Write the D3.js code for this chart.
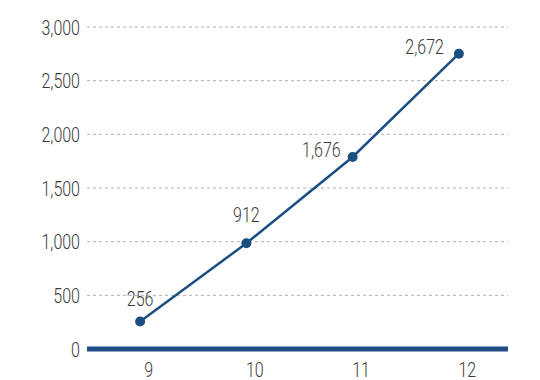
<!DOCTYPE html>
<html><head><meta charset="utf-8">
<script src="https://cdn.jsdelivr.net/npm/d3@7"></script>
<style>body{margin:0;background:#fff}svg{display:block}</style>
</head><body>
<svg id="c" width="540" height="380"></svg>
<script>
const categories = ["9", "10", "11", "12"];
const values = [256, 985, 1789, 2751];
const labels = ["256", "912", "1,676", "2,672"];
const yTicks = [0, 500, 1000, 1500, 2000, 2500, 3000];

(function () {
const svg = d3.select("#c");
const font = "Roboto, sans-serif";
const fs = 20, sx = 0.8, tc = "#3a3a3a";
const mLeft = 87, mRight = 508, mTop = 27, mBottom = 349;
const x = d3.scalePoint().domain(categories).range([mLeft, 512]).padding(0.5);
const y = d3.scaleLinear().domain([0, 3000]).range([mBottom, mTop]);

function styleText(sel) {
  sel.attr("font-family", font).attr("font-size", fs).attr("font-weight", 300).attr("fill", tc);
}

// gridlines
svg.append("g").selectAll("line").data(yTicks.filter(d => d > 0)).join("line")
  .attr("x1", mLeft).attr("x2", mRight)
  .attr("y1", d => y(d)).attr("y2", d => y(d))
  .attr("stroke", "#b0b0b0").attr("stroke-width", 1).attr("stroke-dasharray", "3,3");

// y axis labels
const yAxis = d3.axisLeft(y).tickValues(yTicks).tickSize(0).tickPadding(0).tickFormat(d3.format(","));
const gy = svg.append("g").attr("transform", `translate(${mLeft - 7},0)`).call(yAxis);
gy.select(".domain").remove();
gy.selectAll("text").call(styleText).attr("x", 0).attr("dy", "0.36em").attr("transform", `scale(${sx},1)`);

// x axis labels
const xAxis = d3.axisBottom(x).tickSize(0).tickPadding(0);
const gx = svg.append("g").attr("transform", `translate(8,${mBottom + 14})`).call(xAxis);
gx.select(".domain").remove();
gx.selectAll("text").call(styleText).attr("dy", "0.72em").attr("transform", `scale(${sx},1)`);

// baseline
svg.append("line").attr("x1", mLeft).attr("x2", mRight).attr("y1", y(0)).attr("y2", y(0))
  .attr("stroke", "#1f4e87").attr("stroke-width", 5);

// line
const data = categories.map((c, i) => ({c, v: values[i], l: labels[i]}));
svg.append("path").datum(data)
  .attr("d", d3.line().x(d => x(d.c)).y(d => y(d.v)))
  .attr("fill", "none").attr("stroke", "#1b4f82").attr("stroke-width", 2.5);

svg.append("g").selectAll("circle").data(data).join("circle")
  .attr("cx", d => x(d.c)).attr("cy", d => y(d.v)).attr("r", 5).attr("fill", "#1b4f82");

// data labels
svg.append("g").selectAll("text").data(data).join("text")
  .call(styleText)
  .attr("text-anchor", (d, i) => i < 2 ? "middle" : "end")
  .attr("transform", (d, i) => {
    const tx = i < 2 ? x(d.c) : x(d.c) - (i === 2 ? 12 : 15);
    const ty = i === 0 ? y(d.v) - 16 : i === 1 ? y(d.v) - 21 : y(d.v);
    return `translate(${tx},${ty}) scale(${sx},1)`;
  })
  .text(d => d.l);
})();
</script>
</body></html>
